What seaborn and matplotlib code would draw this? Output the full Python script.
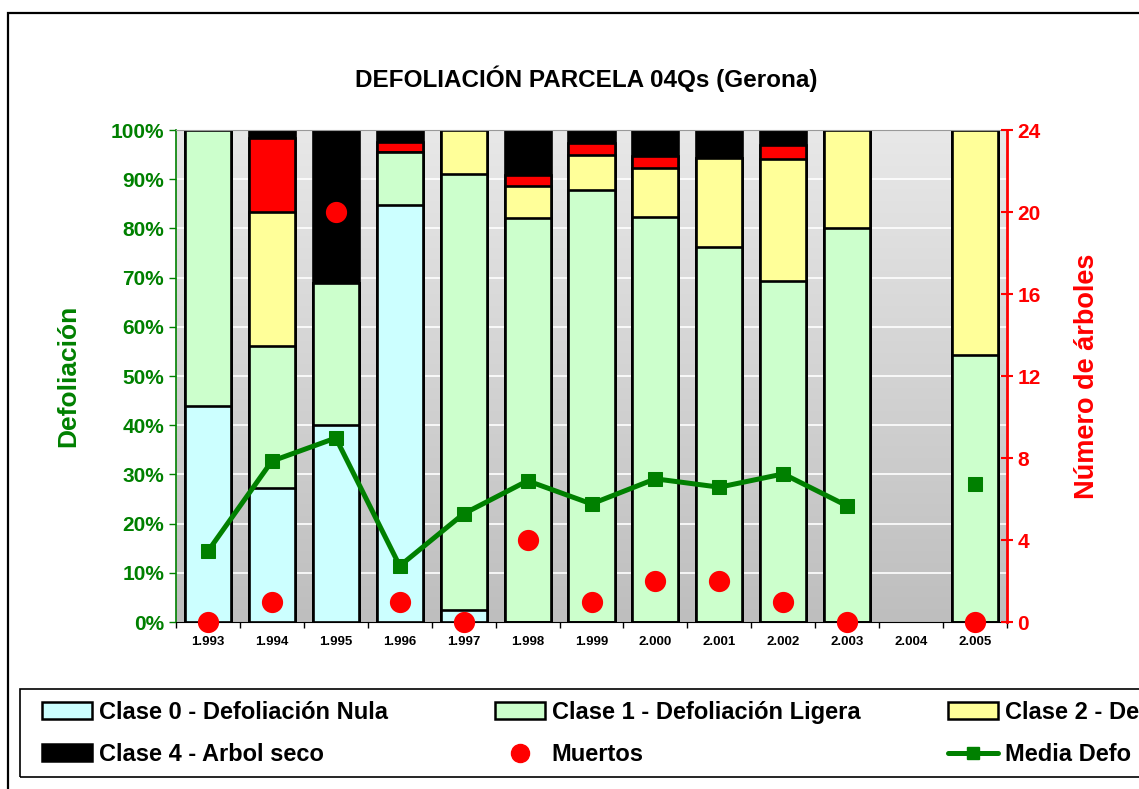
import matplotlib
matplotlib.use('Agg')
import matplotlib.pyplot as plt
from matplotlib.patches import Rectangle, Patch
from matplotlib.lines import Line2D
import seaborn as sns
import numpy as np

years = ['1.993', '1.994', '1.995', '1.996', '1.997', '1.998', '1.999',
         '2.000', '2.001', '2.002', '2.003', '2.004', '2.005']
nan = np.nan
clase0 = [44.0, 27.3, 40.0, 84.8, 2.4, 0, 0, 0, 0, 0, 0, nan, 0]
clase1 = [56.0, 28.8, 28.9, 10.7, 88.7, 82.1, 87.8, 82.4, 76.3, 69.3, 80.0, nan, 54.2]
clase2 = [0, 27.2, 0, 0, 8.9, 6.6, 7.1, 9.9, 18.1, 24.9, 20.0, nan, 45.8]
clase3 = [0, 15.1, 0, 2.1, 0, 2.2, 2.4, 2.5, 0, 2.8, 0, nan, 0]
clase4 = [0, 1.6, 31.1, 2.4, 0, 9.1, 2.7, 5.2, 5.6, 3.0, 0, nan, 0]
media_defo = [14.4, 32.7, 37.4, 11.4, 22.0, 28.7, 24.0, 29.1, 27.4, 30.1, 23.6, nan, 28.0]
muertos = [0, 1, 20, 1, 0, 4, 1, 2, 2, 1, 0, nan, 0]

labels = ['Clase 0 - Defoliación Nula', 'Clase 1 - Defoliación Ligera',
          'Clase 2 - Defoliación Moderada', 'Clase 3 - Defoliación Grave',
          'Clase 4 - Arbol seco']
colors = ['#CCFFFF', '#CCFFCC', '#FFFF99', '#FF0000', '#000000']
green = '#008000'
red = '#FF0000'

sns.set_style('white', {'text.color': 'black', 'axes.labelcolor': 'black',
                        'xtick.color': 'black', 'ytick.color': 'black'})
plt.rcParams['font.family'] = ['Liberation Sans', 'DejaVu Sans']
plt.rcParams['font.weight'] = 'bold'

W, H = 1139, 789
fig = plt.figure(figsize=(W / 100, H / 100), dpi=100)
ax = fig.add_axes([176 / W, (H - 622) / H, (1007 - 176) / W, (622 - 130) / H])

# gradient background of the plot area
grad = np.linspace(0, 1, 256).reshape(-1, 1)
ax.imshow(grad, extent=[0, 1, 0, 1], transform=ax.transAxes, aspect='auto',
          cmap=matplotlib.colors.LinearSegmentedColormap.from_list('g', ['#E8E8E8', '#BEBEBE']),
          zorder=0)
for v in range(10, 100, 10):
    ax.axhline(v, color='white', lw=1.2, zorder=0.5)

# stacked bars drawn as overlaid cumulative bars
stack = np.array([clase0, clase1, clase2, clase3, clase4])
cum = np.cumsum(stack, axis=0)
for i in range(4, -1, -1):
    sns.barplot(x=years, y=cum[i], order=years, color=colors[i], saturation=1,
                edgecolor='black', linewidth=1.9, width=0.72, errorbar=None,
                ax=ax, zorder=2)

pos = np.arange(len(years))
sns.lineplot(x=pos[:11], y=media_defo[:11], color=green, lw=3.6, marker='s',
             markersize=10, markeredgecolor=green, ax=ax, zorder=4)
sns.lineplot(x=pos[12:], y=media_defo[12:], color=green, lw=3.6, marker='s',
             markersize=10, markeredgecolor=green, ax=ax, zorder=4)

ax.set_xlim(-0.5, 12.5)
ax.set_ylim(0, 100)
ax.set_yticks(range(0, 101, 10))
ax.set_yticklabels([f'{v}%' for v in range(0, 101, 10)])
ax.tick_params(axis='y', colors=green, labelsize=15, length=5, width=1, direction='out', left=True)
for t in ax.get_yticklabels():
    t.set_fontweight('bold')
ax.set_xticks(pos)
ax.set_xticklabels(years, fontsize=9.5, fontweight='bold')
ax.tick_params(axis='x', length=0, pad=10, colors='black')
ax.set_xticks(np.arange(-0.5, 13, 1), minor=True)
ax.tick_params(axis='x', which='minor', length=4, width=1, color='black', direction='out', bottom=True)
ax.set_xlabel('')
ax.set_ylabel('Defoliación', color=green, fontsize=19, fontweight='bold', labelpad=22)
for side in ['left', 'right', 'top', 'bottom']:
    ax.spines[side].set_visible(True)
ax.spines['left'].set_color(green)
ax.spines['left'].set_linewidth(1.2)
ax.spines['bottom'].set_color('black')
ax.spines['top'].set_color('#999999')
ax.spines['right'].set_visible(False)

ax2 = ax.twinx()
sns.scatterplot(x=pos, y=muertos, color=red, s=200, edgecolor=red, ax=ax2,
                zorder=5, clip_on=False)
ax2.set_ylim(0, 24)
ax2.set_yticks(range(0, 25, 4))
ax2.tick_params(axis='y', colors=red, labelsize=15, length=8, width=1.5, direction='inout', right=True)
for t in ax2.get_yticklabels():
    t.set_fontweight('bold')
ax2.set_ylabel('Número de árboles', color=red, fontsize=19.5, fontweight='bold', labelpad=24)
ax2.spines['right'].set_color(red)
ax2.spines['right'].set_linewidth(2)
ax2.spines['left'].set_visible(False)
ax2.spines['top'].set_visible(False)
ax2.spines['bottom'].set_visible(False)
ax2.grid(False)

fig.text(586 / W, 1 - 79 / H, 'DEFOLIACIÓN PARCELA 04Qs (Gerona)', ha='center', va='center',
         fontsize=17.5, fontweight='bold', color='black')

# legend: fixed-width columns, row-major, running past the right edge
h = [Patch(facecolor=c, edgecolor='black', linewidth=1.8) for c in colors]
h_mu = Line2D([], [], color=red, marker='o', linestyle='none', markersize=13)
h_md = Line2D([], [], color=green, marker='s', lw=3.6, markersize=9)
columns = [([h[0], h[4]], [labels[0], labels[4]]),
           ([h[1], h_mu], [labels[1], 'Muertos']),
           ([h[2], h_md], [labels[2], 'Media Defo']),
           ([h[3]], [labels[3]])]
col_x = [42, 495, 948, 1401]
for (hs, ns), x0 in zip(columns, col_x):
    fig.legend(hs, ns, loc='upper left', bbox_to_anchor=(x0 / W, 1 - 701 / H),
               prop={'size': 17, 'weight': 'bold'}, frameon=False,
               handlelength=2.1, handleheight=0.7, handletextpad=0.3,
               borderpad=0, borderaxespad=0, labelspacing=0.8)
fig.patches.append(Rectangle((20 / W, (H - 777) / H), 2.0, 88 / H, transform=fig.transFigure,
                             fill=False, edgecolor='black', linewidth=1.2))

# outer frame
fig.patches.append(Rectangle((8 / W, -0.2), 2.0, 1 - 13 / H + 0.2, transform=fig.transFigure,
                             fill=False, edgecolor='black', linewidth=1.6))

fig.savefig('out.png', dpi=100)
